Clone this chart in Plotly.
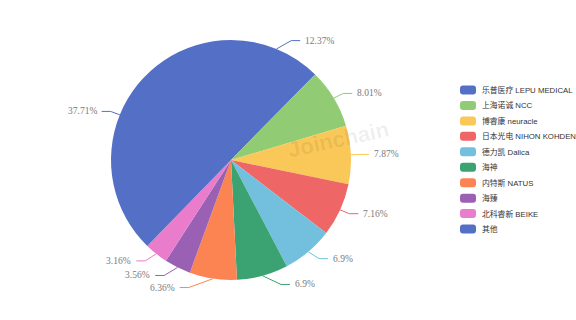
import math
import plotly.graph_objects as go

labels = ["乐普医疗 LEPU MEDICAL", "上海诺诚 NCC", "博睿康 neuracle", "日本光电 NIHON KOHDEN",
          "德力凯 Dalica", "海神", "内特斯 NATUS", "海臻", "北科睿新 BEIKE", "其他"]
values = [12.37, 8.01, 7.87, 7.16, 6.9, 6.9, 6.36, 3.56, 3.16, 37.71]
colors = ["#5470c6", "#91cc75", "#fac858", "#ee6666", "#73c0de",
          "#3ba272", "#fc8452", "#9a60b4", "#ea7ccc", "#5470c6"]

W, H = 576, 320
CX, CY, R = 231, 160, 120
LEN1, LEN2, GAP = 9, 9, 3
RB = R + LEN1 + 6  # vertical semi-axis of the label ellipse

def px(x):
    return x / W

def py(y):
    return 1 - y / H

fig = go.Figure()
fig.add_trace(go.Pie(
    labels=labels, values=values, sort=False, direction="clockwise", rotation=0,
    marker=dict(colors=colors, line=dict(width=0)),
    textinfo="none", hoverinfo="label+percent", showlegend=False,
    domain=dict(x=[px(CX - R), px(CX + R)], y=[py(CY + R), py(CY - R)]),
))

shapes = []
annotations = []
total = sum(values)
cum = 0.0
RA = R + LEN1
for v, c in zip(values, colors):
    mid = (cum + v / 2) / total * 2 * math.pi
    cum += v
    sx, sy = math.sin(mid), -math.cos(mid)
    d = 1 if sx >= 0 else -1
    x0, y0 = CX + R * sx, CY + R * sy
    y1 = CY + RA * sy
    dy = abs(y1 - CY)
    x1 = CX + d * RA * math.sqrt(max(0.0, 1 - dy * dy / (RB * RB)))
    x2 = x1 + d * LEN2
    path = f"M{px(x0)},{py(y0)} L{px(x1)},{py(y1)} L{px(x2)},{py(y1)}"
    shapes.append(dict(type="path", xref="paper", yref="paper", path=path,
                       line=dict(color=c, width=1)))
    annotations.append(dict(x=px(x2 + d * GAP), y=py(y1), xref="paper", yref="paper",
                            text=f"{v}%", showarrow=False,
                            xanchor="left" if d > 0 else "right", yanchor="middle",
                            font=dict(family="Liberation Serif", size=9.5, color="#7a7a7a")))

# custom legend
LX, LY0, LSTEP = 460, 90, 15.45
IW, IH = 16, 9
for i, (lab, c) in enumerate(zip(labels, colors)):
    yc = LY0 + i * LSTEP
    x0, x1 = LX, LX + IW
    y0, y1 = yc - IH / 2, yc + IH / 2
    rr = 3
    path = (f"M{px(x0 + rr)},{py(y0)} L{px(x1 - rr)},{py(y0)} "
            f"Q{px(x1)},{py(y0)} {px(x1)},{py(y0 + rr)} L{px(x1)},{py(y1 - rr)} "
            f"Q{px(x1)},{py(y1)} {px(x1 - rr)},{py(y1)} L{px(x0 + rr)},{py(y1)} "
            f"Q{px(x0)},{py(y1)} {px(x0)},{py(y1 - rr)} L{px(x0)},{py(y0 + rr)} "
            f"Q{px(x0)},{py(y0)} {px(x0 + rr)},{py(y0)} Z")
    shapes.append(dict(type="path", xref="paper", yref="paper", path=path,
                       fillcolor=c, line=dict(width=0)))
    annotations.append(dict(x=px(LX + IW + 4), y=py(yc), xref="paper", yref="paper",
                            text=lab, showarrow=False, xanchor="left", yanchor="middle",
                            font=dict(family="Liberation Sans, Noto Sans CJK SC", size=7.8,
                                      color="#333333")))

# watermark
annotations.append(dict(x=px(338), y=py(139), xref="paper", yref="paper",
                        text="<b>Joinchain</b>", showarrow=False, textangle=-12,
                        font=dict(family="Liberation Sans", size=22, color="rgba(0,0,0,0.07)")))

fig.update_layout(width=W, height=H, margin=dict(l=0, r=0, t=0, b=0),
                  paper_bgcolor="white", plot_bgcolor="white",
                  shapes=shapes, annotations=annotations)
fig.write_html("out.html")
